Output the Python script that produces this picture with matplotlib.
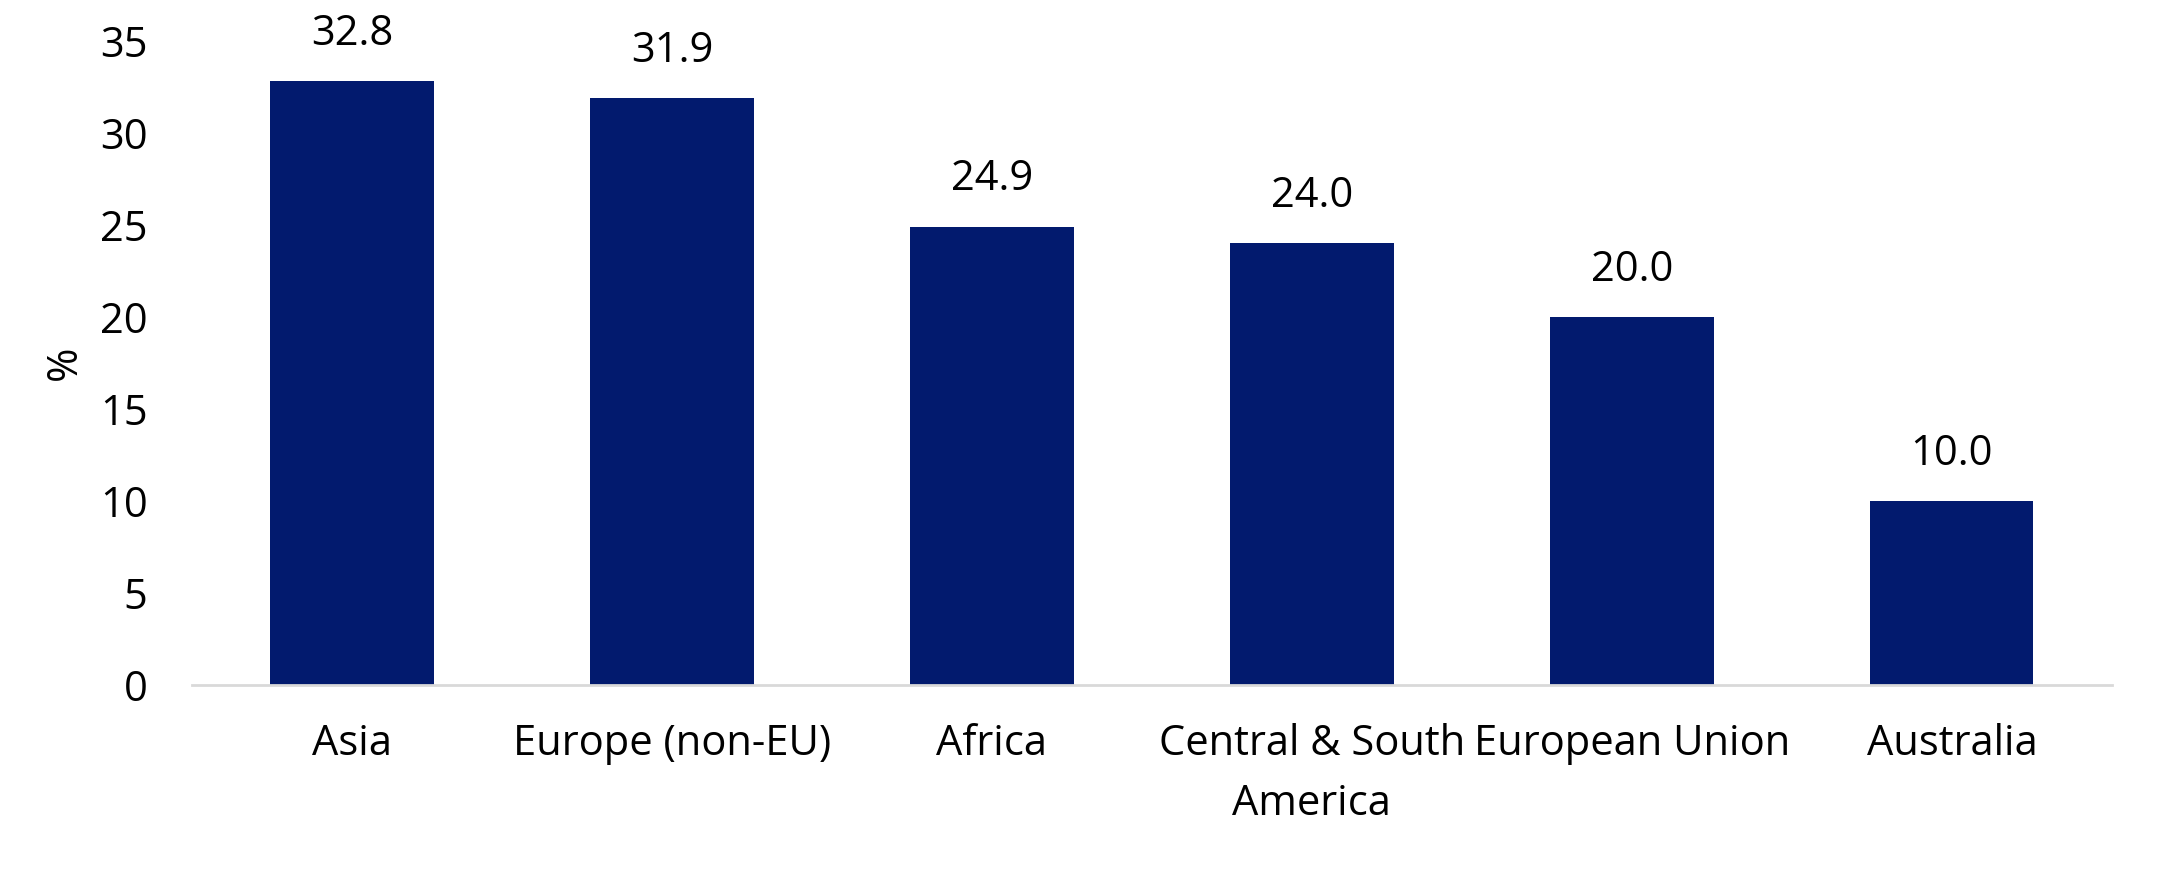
import matplotlib
matplotlib.use("Agg")
import matplotlib.pyplot as plt
import numpy as np

plt.rcParams['font.family'] = ['Open Sans', 'DejaVu Sans']

# data
regions = ["Asia", "Europe (non-EU)", "Africa", "Central & South\nAmerica",
           "European Union", "Australia"]
values = [32.8, 31.9, 24.9, 24.0, 20.0, 10.0]
yticks = [0, 5, 10, 15, 20, 25, 30, 35]

bar_color = "#021a6e"
fs = 30

fig = plt.figure(figsize=(21.79, 8.69), dpi=100)
ax = fig.add_axes([0.0881, 0.2117, 0.8811, 0.7413])

x = np.arange(len(regions))
bars = ax.bar(x, values, width=0.51, color=bar_color)

for xi, v in zip(x, values):
    ax.annotate(f"{v:.1f}", (xi, v), xytext=(0, 19), textcoords="offset points",
                ha="center", va="bottom", fontsize=fs, color="black")

ax.set_xlim(-0.5, len(regions) - 0.5)
ax.set_ylim(0, 35)
ax.set_yticks(yticks)
ax.set_xticks(x)
ax.set_xticklabels(regions, fontsize=fs, linespacing=1.58)
ax.tick_params(axis="y", labelsize=fs, length=0, pad=32)
ax.tick_params(axis="x", length=0, pad=27)
for lab in ax.get_xticklabels():
    lab.set_verticalalignment("top")

for s in ["top", "right", "left"]:
    ax.spines[s].set_visible(False)
ax.spines["bottom"].set_color("#d9d9d9")
ax.spines["bottom"].set_linewidth(2)

ax.set_ylabel("%", fontsize=fs)
ax.yaxis.set_label_coords(-0.055, 0.5)

plt.savefig("out.png", dpi=100)
